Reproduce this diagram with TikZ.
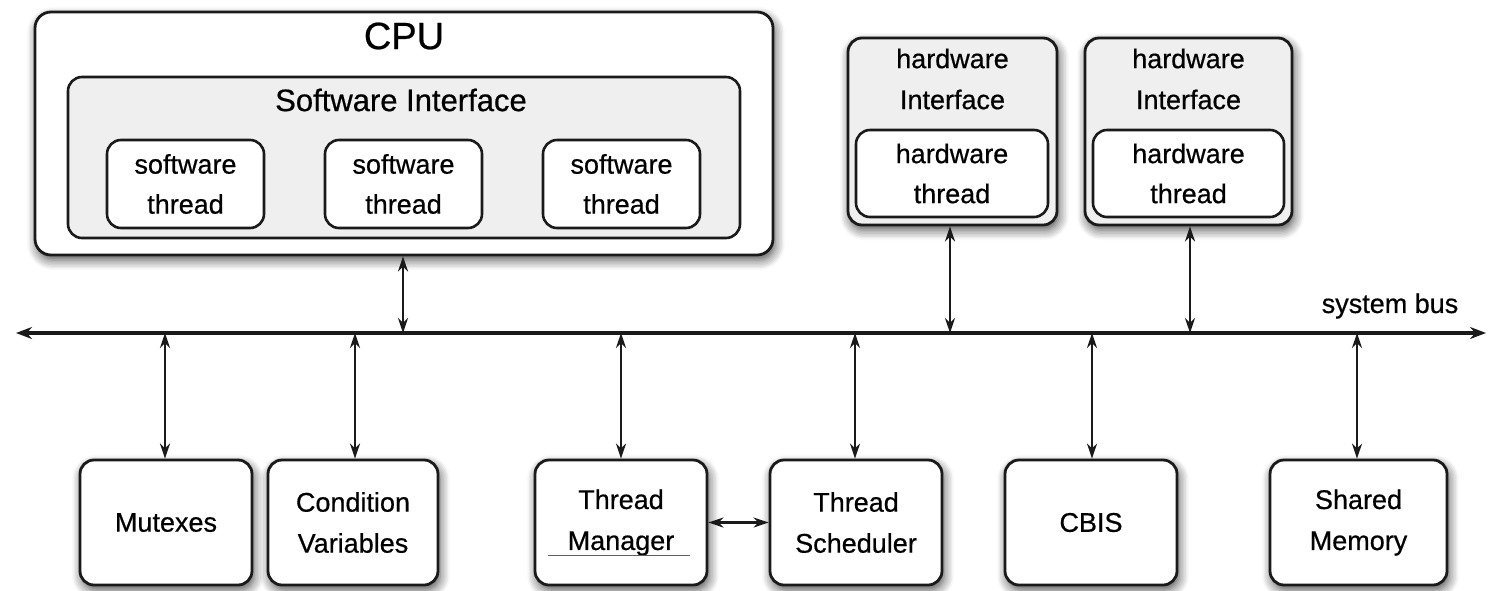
\documentclass[tikz,border=0pt]{standalone}
\usepackage{fontspec}
\setmainfont{Liberation Sans}[FakeBold=0.6]
\usetikzlibrary{shadows.blur,arrows.meta}
\definecolor{ink}{HTML}{1A1A1A}
\definecolor{pane}{HTML}{EFEFEF}
\tikzset{
  shade/.style={blur shadow={shadow xshift=2pt,shadow yshift=-5pt,shadow blur radius=10pt,shadow blur steps=7,shadow opacity=70}},
  outerbox/.style={draw=ink,line width=2.8pt,rounded corners=16pt,fill=white,shade},
  panebox/.style={draw=ink,line width=2.6pt,rounded corners=14pt,fill=pane},
  innerbox/.style={draw=ink,line width=2.6pt,rounded corners=14pt,fill=white,align=center,font=\fontsize{27}{40}\selectfont},
  hwbox/.style={draw=ink,line width=2.8pt,rounded corners=14pt,fill=pane,shade},
  unitbox/.style={draw=ink,line width=2.8pt,rounded corners=14pt,fill=white,shade,align=center,
    minimum width=172pt,minimum height=125pt,font=\fontsize{27}{41}\selectfont},
  txt/.style={font=\fontsize{27}{41}\selectfont,align=center,inner sep=0pt},
  link/.style={draw=ink,line width=2.4pt,{Stealth[length=15pt,width=10pt]}-{Stealth[length=15pt,width=10pt]}},
  busline/.style={draw=ink,line width=4pt,{Stealth[length=16pt,width=12pt]}-{Stealth[length=16pt,width=12pt]}}
}
\begin{document}
\begin{tikzpicture}[x=1pt,y=-1pt]
\useasboundingbox (0,0) rectangle (1488,590);
% CPU
\node[outerbox,minimum width=738pt,minimum height=243pt] (cpu) at (404,133.5) {};
\node[font=\fontsize{38}{40}\selectfont,inner sep=0pt] (cputitle) at (404,36) {CPU};
\node[panebox,minimum width=672pt,minimum height=161pt] (swi) at (404,157.5) {};
\node[font=\fontsize{31}{32}\selectfont,inner sep=0pt] (switxt) at (401,100) {Software Interface};
\node[innerbox,minimum width=157pt,minimum height=88pt] (sw1) at (185.5,184) {software\\thread};
\node[innerbox,minimum width=157pt,minimum height=88pt] (sw2) at (403.5,184) {software\\thread};
\node[innerbox,minimum width=157pt,minimum height=88pt] (sw3) at (621.5,184) {software\\thread};
% hardware
\node[hwbox,minimum width=209pt,minimum height=187pt] (hw1) at (952.5,131.5) {};
\node[txt] (hw1t) at (952.5,79) {hardware\\Interface};
\node[innerbox,minimum width=192pt,minimum height=87pt] (hwt1) at (952,173.5) {hardware\\thread};
\node[hwbox,minimum width=207pt,minimum height=187pt] (hw2) at (1188.5,131.5) {};
\node[txt] (hw2t) at (1188.5,79) {hardware\\Interface};
\node[innerbox,minimum width=191pt,minimum height=87pt] (hwt2) at (1188.5,173.5) {hardware\\thread};
% bus
\coordinate (busL) at (16,333);
\coordinate (busR) at (1486,333);
\draw[busline] (busL) -- (busR);
\node[txt] (buslabel) at (1390,306) {system bus};
% bottom units
\node[unitbox] (mtx) at (166,522.5) {Mutexes};
\node[unitbox,minimum width=170pt] (cond) at (353,522.5) {Condition\\Variables};
\node[unitbox] (tm) at (621,522.5) {Thread\\Manager};
\node[unitbox] (ts) at (856,522.5) {Thread\\Scheduler};
\node[unitbox] (cbis) at (1091,522.5) {CBIS};
\node[unitbox,minimum width=177pt] (shm) at (1358.5,522.5) {Shared\\Memory};
\draw[ink!70,line width=0.8pt] ([xshift=-73pt,yshift=-33pt]tm.center) coordinate (ulL) -- ([xshift=69pt,yshift=-33pt]tm.center) coordinate (ulR);
% connectors
\draw[link] (cpu.south -| 403,0) -- (403,333);
\draw[link] (hw1.south -| 950,0) -- (950,333);
\draw[link] (hw2.south -| 1190,0) -- (1190,333);
\draw[link] (165,333) -- (mtx.north -| 165,0);
\draw[link] (355,333) -- (cond.north -| 355,0);
\draw[link] (621,333) -- (tm.north);
\draw[link] (855,333) -- (ts.north -| 855,0);
\draw[link] (1092,333) -- (cbis.north -| 1092,0);
\draw[link] (1357,333) -- (shm.north -| 1357,0);
\draw[link] (tm.east) -- (ts.west);
\end{tikzpicture}
\end{document}
